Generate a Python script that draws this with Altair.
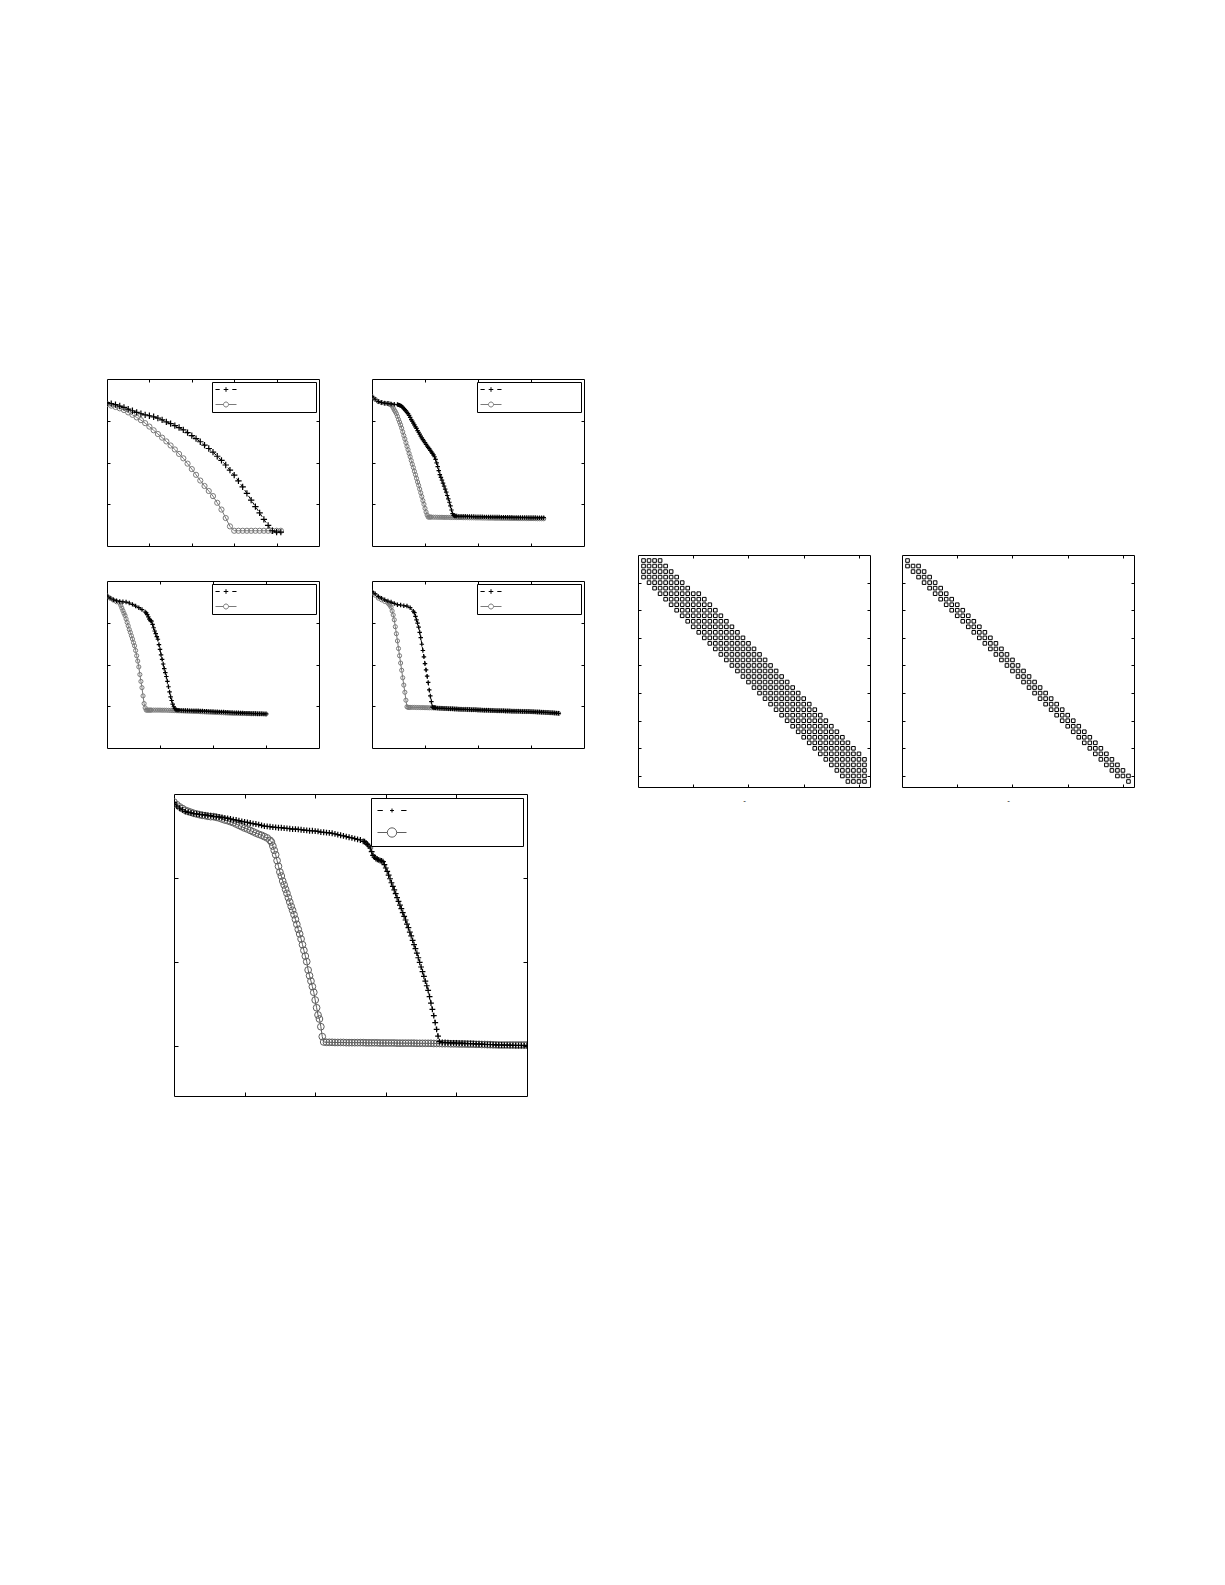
import altair as alt
import pandas as pd

# ---------------- data: convergence panels (log10 residual vs iteration) ----------------
P1_X = list(range(0, 42))
P1_PLUS_Y = [-2.26, -2.36, -2.46, -2.59, -2.72, -2.88, -3.04, -3.20, -3.33, -3.43,
             -3.52, -3.62, -3.75, -3.91, -4.10, -4.27, -4.46, -4.65, -4.88, -5.14,
             -5.43, -5.72, -6.01, -6.33, -6.66, -7.01, -7.40, -7.79, -8.24, -8.73,
             -9.21, -9.76, -10.34, -10.96, -11.60, -12.22, -12.83, -13.45, -14.03, -14.54,
             -14.67, -14.67]
P1_O_Y = [-2.39, -2.55, -2.68, -2.81, -2.97, -3.20, -3.43, -3.68, -3.94, -4.23,
          -4.56, -4.91, -5.27, -5.62, -5.98, -6.37, -6.75, -7.18, -7.60, -8.11,
          -8.63, -9.18, -9.73, -10.25, -10.73, -11.22, -11.86, -12.51, -13.32, -14.12,
          -14.54, -14.54, -14.54, -14.54, -14.54, -14.54, -14.54, -14.54, -14.54, -14.54,
          -14.54, -14.54]

P2_PLUS_X = list(range(0, 25, 3)) + list(range(25, 81)) + list(range(82, 163, 2))
P2_PLUS_Y = [-1.68, -1.94, -2.16, -2.26, -2.32, -2.35, -2.39, -2.42, -2.45,
             -2.48, -2.52, -2.55, -2.61, -2.71, -2.84, -2.94, -3.06, -3.19, -3.32,
             -3.48, -3.68, -3.90, -4.03, -4.23, -4.39, -4.58, -4.74, -4.94, -5.10,
             -5.29, -5.48, -5.65, -5.81, -5.94, -6.10, -6.26, -6.42, -6.55, -6.68,
             -6.84, -6.97, -7.13, -7.26, -7.45, -7.71, -8.03, -8.39, -8.77, -9.16,
             -9.42, -9.68, -9.97, -10.26, -10.55, -10.84, -11.16, -11.48, -11.81, -12.16,
             -12.55, -12.90, -13.06, -13.13, -13.13, -13.13,
             -13.15, -13.15, -13.16, -13.16, -13.17, -13.17, -13.18, -13.18, -13.19, -13.19,
             -13.20, -13.20, -13.21, -13.21, -13.22, -13.22, -13.22, -13.23, -13.23, -13.23,
             -13.24, -13.24, -13.24, -13.25, -13.25, -13.25, -13.26, -13.26, -13.26, -13.27,
             -13.27, -13.27, -13.27, -13.28, -13.28, -13.28, -13.28, -13.29, -13.29, -13.29,
             -13.29]
P2_O_X = list(range(0, 16, 3)) + list(range(16, 57)) + list(range(58, 163, 2))
P2_O_Y = [-1.68, -1.94, -2.16, -2.26, -2.32, -2.35,
          -2.39, -2.42, -2.45, -2.58, -2.77, -2.97, -3.13, -3.32, -3.58, -3.87,
          -4.13, -4.39, -4.71, -5.06, -5.42, -5.74, -6.10, -6.45, -6.77, -7.13,
          -7.45, -7.81, -8.16, -8.48, -8.84, -9.16, -9.52, -9.87, -10.19, -10.55,
          -10.90, -11.26, -11.65, -12.00, -12.39, -12.74, -13.03, -13.23, -13.23, -13.23,
          -13.23,
          -13.24, -13.24, -13.25, -13.25, -13.25, -13.26, -13.26, -13.26, -13.27, -13.27,
          -13.27, -13.28, -13.28, -13.28, -13.29, -13.29, -13.29, -13.30, -13.30, -13.30,
          -13.31, -13.31, -13.31, -13.32, -13.32, -13.32, -13.33, -13.33, -13.33, -13.34,
          -13.34, -13.34, -13.35, -13.35, -13.35, -13.35, -13.36, -13.36, -13.36, -13.36,
          -13.37, -13.37, -13.37, -13.37, -13.38, -13.38, -13.38, -13.38, -13.38, -13.39,
          -13.39, -13.39, -13.39]

P3_PLUS_X = list(range(0, 37, 3)) + list(range(37, 69)) + list(range(70, 151, 2))
P3_PLUS_Y = [-1.42, -1.64, -1.80, -1.89, -1.96, -1.99, -2.02, -2.11, -2.24, -2.40, -2.56, -2.74, -2.97,
             -3.06, -3.22, -3.44, -3.66, -3.79, -3.85, -4.16, -4.48, -4.79, -5.05,
             -5.33, -5.58, -6.09, -6.56, -7.07, -7.51, -7.95, -8.39, -8.77, -9.15,
             -9.62, -10.13, -10.63, -11.10, -11.45, -11.80, -12.05, -12.21, -12.33, -12.37,
             -12.37, -12.37,
             -12.40, -12.40, -12.41, -12.41, -12.42, -12.42, -12.43, -12.43, -12.44, -12.45,
             -12.46, -12.47, -12.48, -12.49, -12.50, -12.51, -12.52, -12.53, -12.54, -12.55,
             -12.56, -12.57, -12.58, -12.59, -12.60, -12.61, -12.62, -12.63, -12.64, -12.65,
             -12.66, -12.67, -12.68, -12.69, -12.70, -12.70, -12.71, -12.72, -12.72, -12.73,
             -12.74]
P3_O_X = list(range(0, 13, 3)) + list(range(13, 43)) + list(range(44, 151, 2))
P3_O_Y = [-1.42, -1.64, -1.83, -1.99, -2.11,
          -2.33, -2.59, -2.84, -3.09, -3.31, -3.63, -3.97, -4.29, -4.64, -4.92,
          -5.24, -5.55, -5.90, -6.21, -6.66, -7.16, -7.67, -8.23, -8.96, -9.62,
          -10.22, -11.01, -11.74, -12.15, -12.37, -12.37, -12.37, -12.37, -12.37, -12.37,
          -12.37, -12.37, -12.37, -12.37, -12.38, -12.38, -12.38,
          -12.39, -12.40, -12.41, -12.42, -12.43, -12.44, -12.44, -12.45, -12.46, -12.47,
          -12.48, -12.49, -12.50, -12.50, -12.51, -12.52,
          -12.53, -12.54, -12.55, -12.56, -12.57, -12.58, -12.59, -12.60, -12.61, -12.62,
          -12.63, -12.64, -12.65, -12.66, -12.67, -12.68,
          -12.68, -12.69, -12.69, -12.70, -12.70, -12.71, -12.71, -12.72, -12.72, -12.72,
          -12.73, -12.73, -12.73, -12.74, -12.74]

P4_PLUS_X = list(range(0, 40, 3)) + list(range(40, 61)) + list(range(62, 177, 2))
P4_PLUS_Y = [-1.01, -1.23, -1.48, -1.64, -1.80, -1.92, -2.02, -2.15, -2.27, -2.30, -2.37, -2.40, -2.56, -2.90,
             -3.03, -3.38, -3.72, -4.04, -4.42, -4.92, -5.43, -6.06, -6.66, -7.26,
             -7.92, -8.52, -9.12, -9.72, -10.44, -11.01, -11.55, -12.08, -12.11, -12.11, -12.15,
             -12.18, -12.19, -12.20, -12.21, -12.22, -12.23, -12.24, -12.25, -12.26, -12.27,
             -12.28, -12.29, -12.30,
             -12.30, -12.31, -12.32, -12.33, -12.33, -12.34, -12.35, -12.36, -12.37, -12.38,
             -12.38, -12.39, -12.40, -12.41, -12.42, -12.43,
             -12.43, -12.44, -12.44, -12.45, -12.45, -12.46, -12.47, -12.47, -12.48, -12.48,
             -12.49, -12.50, -12.50, -12.51, -12.51, -12.52,
             -12.53, -12.54, -12.55, -12.56, -12.57, -12.58, -12.59, -12.60, -12.62, -12.63,
             -12.64, -12.66, -12.68]
P4_O_X = list(range(0, 16, 3)) + list(range(16, 37)) + list(range(38, 177, 2))
P4_O_Y = [-1.07, -1.36, -1.64, -1.80, -1.96, -2.11,
          -2.21, -2.33, -2.52, -2.87, -3.25, -3.72, -4.38, -5.05, -5.74, -6.47,
          -7.16, -7.86, -8.55, -9.27, -9.97, -10.66, -11.42, -12.05, -12.11, -12.11, -12.11,
          -12.11, -12.11, -12.12, -12.12, -12.13, -12.13, -12.14, -12.14, -12.15, -12.15,
          -12.16, -12.17, -12.18, -12.19, -12.20, -12.21, -12.22, -12.23, -12.24, -12.25,
          -12.26, -12.27, -12.28, -12.29, -12.30,
          -12.30, -12.31, -12.32, -12.33, -12.33, -12.34, -12.35, -12.36, -12.37, -12.38,
          -12.38, -12.39, -12.40, -12.41, -12.42, -12.43,
          -12.43, -12.44, -12.44, -12.45, -12.45, -12.46, -12.47, -12.47, -12.48, -12.48,
          -12.49, -12.50, -12.50, -12.51, -12.51, -12.52,
          -12.53, -12.54, -12.55, -12.56, -12.57, -12.58, -12.59, -12.60, -12.62, -12.63,
          -12.64, -12.66, -12.68]

BIG_PLUS_X = list(range(0, 269, 4)) + list(range(270, 377, 2)) + list(range(380, 501, 4))
BIG_PLUS_Y = [-0.52, -0.72, -0.85, -0.95, -1.05, -1.09, -1.13, -1.17, -1.19, -1.21,
              -1.23, -1.25, -1.27, -1.29, -1.33, -1.35, -1.37, -1.39, -1.43, -1.45,
              -1.49, -1.53, -1.55, -1.59, -1.63, -1.67, -1.69, -1.73, -1.77, -1.79,
              -1.83, -1.87, -1.91, -1.93, -1.95, -1.97, -1.99, -2.01, -2.01, -2.03,
              -2.05, -2.07, -2.09, -2.09, -2.11, -2.13, -2.15, -2.17, -2.19, -2.19,
              -2.21, -2.23, -2.27, -2.28, -2.30, -2.32, -2.34, -2.38, -2.42, -2.46,
              -2.50, -2.54, -2.58, -2.62, -2.66, -2.70, -2.74, -2.82,
              -2.84, -2.92, -3.00, -3.10, -3.22, -3.44, -3.66, -3.76, -3.85, -3.89,
              -3.93, -3.97, -3.99, -4.03, -4.21, -4.41, -4.61, -4.83, -5.05, -5.29,
              -5.50, -5.72, -5.94, -6.18, -6.40, -6.62, -6.83, -7.07, -7.29, -7.51,
              -7.75, -7.97, -8.23, -8.46, -8.72, -8.98, -9.22, -9.48, -9.76, -10.03,
              -10.31, -10.59, -10.87, -11.15, -11.43, -11.70, -12.08, -12.46, -12.84, -13.21,
              -13.63, -14.03, -14.43, -14.76,
              -14.80, -14.81, -14.82, -14.83, -14.83, -14.84, -14.85, -14.85, -14.86, -14.87,
              -14.87, -14.88, -14.89, -14.90, -14.91, -14.92, -14.93, -14.93, -14.94, -14.95,
              -14.96, -14.96, -14.97, -14.97, -14.98, -14.98, -14.99, -14.99, -14.99, -15.00,
              -15.00]
BIG_O_X = list(range(0, 137, 4)) + list(range(138, 213, 2)) + list(range(216, 501, 4))
BIG_O_Y = [-0.48, -0.64, -0.77, -0.87, -0.97, -1.03, -1.09, -1.15, -1.19, -1.23,
           -1.27, -1.29, -1.33, -1.35, -1.35, -1.39, -1.43, -1.49, -1.55, -1.59,
           -1.65, -1.71, -1.79, -1.87, -1.95, -2.03, -2.09, -2.17, -2.25, -2.33,
           -2.40, -2.46, -2.54, -2.62, -2.76,
           -2.86, -3.10, -3.36, -3.62, -3.97, -4.31, -4.65, -4.89, -5.19, -5.42,
           -5.68, -5.92, -6.18, -6.44, -6.70, -6.93, -7.19, -7.47, -7.77, -8.07,
           -8.34, -8.64, -8.98, -9.32, -9.66, -9.99, -10.49, -10.83, -11.15, -11.48,
           -11.82, -12.28, -12.74, -13.17, -13.41, -13.87, -14.46, -14.78,
           -14.80, -14.80, -14.80, -14.81, -14.81, -14.81, -14.81, -14.82, -14.82, -14.82,
           -14.82, -14.82, -14.82, -14.82,
           -14.83, -14.83, -14.83, -14.83, -14.83, -14.84, -14.84, -14.84, -14.84, -14.84,
           -14.84, -14.85, -14.85, -14.85, -14.85, -14.85, -14.85, -14.85, -14.86, -14.86,
           -14.86, -14.86, -14.86, -14.86,
           -14.87, -14.87, -14.87, -14.88, -14.88, -14.88, -14.89, -14.89, -14.89, -14.90,
           -14.90, -14.90, -14.91, -14.91, -14.91, -14.92, -14.92, -14.93, -14.93, -14.94,
           -14.94, -14.95, -14.95, -14.96,
           -14.96, -14.96, -14.96, -14.96, -14.96, -14.96, -14.96, -14.96, -14.96, -14.96]

# ---------------- data: sparsity patterns (first / last nonzero column of each row) ----------------
M1_FIRST = [1, 1, 1, 1, 2, 3, 4, 5, 6, 7, 8, 9, 10, 11, 12, 13, 14, 15, 16, 17, 18, 19, 20,
            21, 22, 23, 24, 25, 26, 27, 28, 29, 30, 31, 32, 33, 34, 35, 36, 37, 38]
M1_LAST = [4, 5, 6, 7, 8, 9, 11, 12, 13, 14, 15, 16, 17, 18, 19, 20, 21, 22, 23, 24, 25, 26,
           27, 28, 29, 30, 31, 32, 33, 34, 35, 36, 37, 38, 39, 40, 41, 41, 41, 41, 41]
M2_FIRST = [1, 1, 2, 3, 4, 5, 6, 7, 8, 9, 10, 11, 12, 13, 14, 15, 16, 17, 18, 19, 20, 21,
            22, 23, 24, 25, 26, 27, 28, 29, 30, 31, 32, 33, 34, 35, 36, 37, 38, 39, 41]
M2_LAST = [1, 3, 4, 5, 6, 7, 8, 9, 10, 11, 12, 13, 14, 15, 16, 17, 18, 19, 20, 21, 22, 23,
           24, 25, 26, 27, 28, 29, 30, 31, 32, 33, 34, 35, 36, 37, 38, 39, 40, 41, 41]

SERIES = ["+", "o"]
GRAY = "#7a7a7a"
GRAY_BIG = "#5e5e5e"
PLUS_PATH = "M-1,0H1M0,-1V1"
# legend samples (units: half of the symbol box; symbol box 8px small, 12px big)
LEG_SMALL = ["M-2.625,0H-1.575M1.575,0H2.625M-0.575,0H0.575M0,-0.575V0.575",
             "M-2.625,0H-0.625M0.625,0H2.625M0.625,0A0.625,0.625,0,1,1,-0.625,0"
             "A0.625,0.625,0,1,1,0.625,0"]
LEG_BIG = ["M-2.417,0H-1.53M1.53,0H2.417M-0.33,0H0.33M0,-0.33V0.33",
           "M-2.417,0H-0.78M0.78,0H2.417M0.78,0A0.78,0.78,0,1,1,-0.78,0"
           "A0.78,0.78,0,1,1,0.78,0"]


def frame(xs, ys):
    return pd.DataFrame({"x": [a for a, _ in zip(xs, ys)], "y": [b for _, b in zip(xs, ys)]})


def ax(orient, values, tick):
    return alt.Axis(orient=orient, values=values, labels=False, domain=False, ticks=True,
                    tickSize=tick, offset=-tick, tickColor="black", tickWidth=1, grid=False,
                    title=None)


def make_legend(big):
    if big:
        return alt.Legend(title=None, orient="top-right", offset=4, padding=6,
                          strokeColor="black", fillColor="white", cornerRadius=0,
                          labelExpr="''", labelOffset=118, labelFontSize=10, rowPadding=9,
                          symbolSize=144, symbolOffset=8.5, symbolStrokeWidth=1)
    return alt.Legend(title=None, orient="top-right", offset=3, padding=3,
                      strokeColor="black", fillColor="white", cornerRadius=0,
                      labelExpr="''", labelOffset=82, labelFontSize=8, rowPadding=6,
                      symbolSize=64, symbolOffset=6.5, symbolStrokeWidth=1)


def line_panel(dp, do, xdom, xt, ydom, yt, w, h, tick, size_plus, size_o, big=False):
    xsc = alt.Scale(domain=xdom, nice=False, zero=False)
    ysc = alt.Scale(domain=ydom, nice=False, zero=False)
    gray = GRAY_BIG if big else GRAY

    def X(a):
        return alt.X("x:Q", scale=xsc, axis=a)

    def Y(a):
        return alt.Y("y:Q", scale=ysc, axis=a)

    o_line = alt.Chart(do).mark_line(color=gray, strokeWidth=1, clip=True).encode(
        x=X(ax("bottom", xt, tick)), y=Y(ax("left", yt, tick)))
    o_pts = alt.Chart(do).mark_point(shape="circle", filled=False, color=gray, size=size_o,
                                     strokeWidth=1, opacity=1, clip=True).encode(
        x=X(ax("top", xt, tick)), y=Y(ax("right", yt, tick)))
    p_line = alt.Chart(dp).mark_line(color="black", strokeWidth=1, strokeDash=[4, 3],
                                     clip=True).encode(x=X(None), y=Y(None))
    p_pts = alt.Chart(dp).mark_point(shape=PLUS_PATH, filled=False, color="black",
                                     size=size_plus, strokeWidth=1.2, opacity=1,
                                     clip=True).encode(x=X(None), y=Y(None))
    leg = make_legend(big)
    paths = LEG_BIG if big else LEG_SMALL
    leg_layer = alt.Chart(pd.DataFrame({"s": pd.Series([], dtype=str)})).mark_point(
        filled=False, opacity=1, strokeWidth=1).encode(
        color=alt.Color("s:N", scale=alt.Scale(domain=SERIES, range=["black", gray]), legend=leg),
        shape=alt.Shape("s:N", scale=alt.Scale(domain=SERIES, range=paths), legend=leg))
    return alt.layer(o_line, o_pts, p_line, p_pts, leg_layer).resolve_axis(
        x="independent", y="independent").properties(width=w, height=h)


def spy_panel(first, last):
    rows, cols = [], []
    for r, (a, b) in enumerate(zip(first, last), start=1):
        for c in range(a, b + 1):
            rows.append(r)
            cols.append(c)
    df = pd.DataFrame({"c": cols, "r": rows})
    xsc = alt.Scale(domain=[0, 42], nice=False, zero=False)
    ysc = alt.Scale(domain=[42, 0], nice=False, zero=False)
    xt = [10, 20, 30, 40]
    yt = [5, 10, 15, 20, 25, 30, 35, 40]
    bottom = alt.Axis(orient="bottom", values=xt, labels=False, domain=False, ticks=True,
                      tickSize=3, offset=-3, tickColor="black", tickWidth=1, grid=False,
                      title="-", titleFontSize=8, titleFontWeight="normal", titleColor="black",
                      titlePadding=9, titleX=106, titleAlign="center")
    sq = alt.Chart(df).mark_square(filled=False, size=13, color="black", strokeWidth=1,
                                   opacity=1).encode(
        x=alt.X("c:Q", scale=xsc, axis=bottom),
        y=alt.Y("r:Q", scale=ysc, axis=ax("left", yt, 3)))
    other = alt.Chart(pd.DataFrame({"c": pd.Series([], dtype=float),
                                    "r": pd.Series([], dtype=float)})).mark_point().encode(
        x=alt.X("c:Q", scale=xsc, axis=ax("top", xt, 3)),
        y=alt.Y("r:Q", scale=ysc, axis=ax("right", yt, 3)))
    return alt.layer(sq, other).resolve_axis(x="independent", y="independent").properties(
        width=232, height=232)


def spacer(w, h):
    return alt.Chart(pd.DataFrame({"v": pd.Series([], dtype=float)})).mark_point().encode(
        x=alt.X("v:Q", axis=None), y=alt.Y("v:Q", axis=None)).properties(
        width=w, height=h, view=alt.ViewBackground(stroke="transparent"))


def ind(c):
    return c.resolve_scale(color="independent", shape="independent").resolve_legend(
        color="independent", shape="independent")


SM_Y = [-16, 0]
SM_YT = [-12, -8, -4]
p1 = line_panel(frame(P1_X, P1_PLUS_Y), frame(P1_X, P1_O_Y), [0, 50], [10, 20, 30, 40],
                SM_Y, SM_YT, 212, 167, 3, 40, 27)
p2 = line_panel(frame(P2_PLUS_X, P2_PLUS_Y), frame(P2_O_X, P2_O_Y), [0, 200], [50, 100, 150],
                SM_Y, SM_YT, 212, 167, 3, 20, 17)
p3 = line_panel(frame(P3_PLUS_X, P3_PLUS_Y), frame(P3_O_X, P3_O_Y), [0, 200], [50, 100, 150],
                SM_Y, SM_YT, 212, 167, 3, 20, 17)
p4 = line_panel(frame(P4_PLUS_X, P4_PLUS_Y), frame(P4_O_X, P4_O_Y), [0, 200], [50, 100, 150],
                SM_Y, SM_YT, 212, 167, 3, 20, 17)
big = line_panel(frame(BIG_PLUS_X, BIG_PLUS_Y), frame(BIG_O_X, BIG_O_Y), [0, 500],
                 [100, 200, 300, 400], [-18, 0], [-15, -10, -5], 353, 302, 4, 34, 45, big=True)
m1 = spy_panel(M1_FIRST, M1_LAST)
m2 = spy_panel(M2_FIRST, M2_LAST)

row1 = ind(alt.hconcat(p1, p2, spacing=51))
row2 = ind(alt.hconcat(p3, p4, spacing=51))
top2 = ind(alt.vconcat(row1, row2, spacing=33))
bigrow = ind(alt.hconcat(spacer(65, 10), big, spacing=0))
left = ind(alt.vconcat(top2, bigrow, spacing=44))
mats = ind(alt.hconcat(m1, m2, spacing=30))
right = ind(alt.vconcat(spacer(10, 174), mats, spacing=0))

chart = ind(alt.hconcat(left, right, spacing=52)).properties(
    padding={"left": 98, "top": 370, "right": 10, "bottom": 10},
    background="white",
).configure(
    font="Liberation Sans",
    view=alt.ViewConfig(stroke="black", strokeWidth=1),
)

chart.save("out.html", embed_options={"renderer": "svg", "actions": False})
